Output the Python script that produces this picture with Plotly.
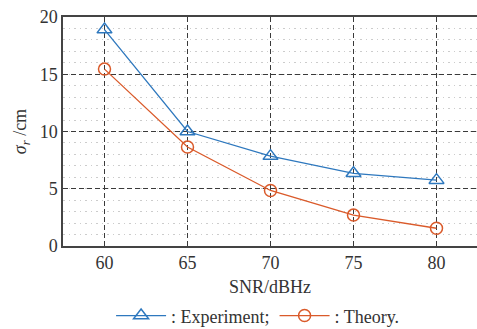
import plotly.graph_objects as go

snr = [60, 65, 70, 75, 80]
experiment = [18.9, 10.0, 7.85, 6.35, 5.75]
theory = [15.45, 8.65, 4.85, 2.7, 1.55]
x_ticks = [60, 65, 70, 75, 80]
y_ticks = [0, 5, 10, 15, 20]

blue = "#2E78BE"
orange = "#DA5A2A"
serif = "Liberation Serif"
txt = "#333333"

fig = go.Figure()
fig.add_trace(go.Scatter(
    x=snr, y=experiment, mode="lines+markers", name=": Experiment;",
    line=dict(color=blue, width=1.3),
    marker=dict(symbol="triangle-up-open", size=13, color=blue, line=dict(width=1.5)),
))
fig.add_trace(go.Scatter(
    x=snr, y=theory, mode="lines+markers", name=": Theory.",
    line=dict(color=orange, width=1.3),
    marker=dict(symbol="circle-open", size=12, color=orange, line=dict(width=1.5)),
))

fig.update_layout(
    template="none",
    width=477, height=329,
    margin=dict(l=63, r=0, t=17, b=83, autoexpand=False),
    paper_bgcolor="white", plot_bgcolor="white",
    font=dict(family=serif, size=18, color=txt),
    showlegend=True,
    legend=dict(orientation="h", x=0.47, xanchor="center", y=-0.305, yanchor="middle",
                font=dict(family=serif, size=18, color=txt),
                itemwidth=50, tracegroupgap=0),
)
fig.update_xaxes(
    range=[57.5, 82.44], tickvals=x_ticks, ticks="", showline=True, mirror=True,
    linecolor="#444444", linewidth=1.5,
    showgrid=True, gridcolor="#3A3A3A", griddash="5px,3px", gridwidth=1.2,
    zeroline=False,
    title=dict(text="SNR/dBHz", standoff=8, font=dict(family=serif, size=18, color=txt)),
    tickfont=dict(family=serif, size=18, color=txt),
)
fig.update_yaxes(
    range=[0, 20], tickvals=y_ticks, ticks="", showline=True, mirror=False,
    linecolor="#444444", linewidth=1.5,
    showgrid=True, gridcolor="#3A3A3A", griddash="5px,3px", gridwidth=1.2,
    minor=dict(dtick=1, showgrid=True, gridcolor="#CCCCCC", griddash="1.5px,4px", gridwidth=1.2),
    zeroline=False,
    title=dict(text="<i>σ<sub>r</sub></i> /cm", standoff=8, font=dict(family=serif, size=18, color=txt)),
    tickfont=dict(family=serif, size=18, color=txt),
)
fig.write_html("out.html")
